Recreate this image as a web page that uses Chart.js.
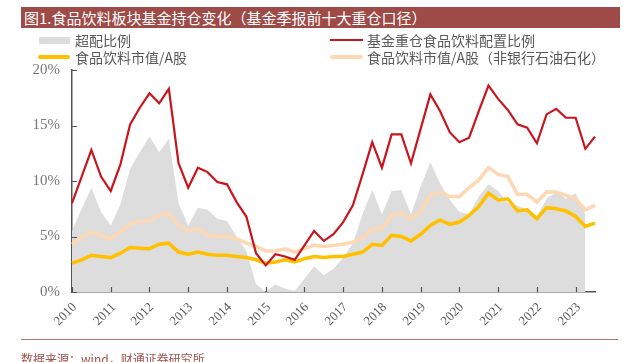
<!DOCTYPE html>
<html>
<head>
<meta charset="utf-8">
<script src="https://cdn.jsdelivr.net/npm/chart.js@4.4.0/dist/chart.umd.min.js"></script>
<style>
  body { margin: 0; background: #fff; }
  #wrap { position: relative; width: 625px; height: 362px; overflow: hidden; font-family: "Noto Sans CJK SC", sans-serif; }
  #title { position: absolute; left: 21px; top: 7px; width: 599px; height: 21px; background: #9e4b47; color: #fff;
           font-size: 15px; line-height: 21px; padding-left: 3px; box-sizing: border-box; white-space: nowrap; }
  .lg { position: absolute; font-size: 14px; color: #595959; line-height: 16px; white-space: nowrap; }
  .sw { position: absolute; }
  canvas { position: absolute; left: 0; top: 0; }
  #rule { position: absolute; left: 21px; top: 339px; width: 597px; height: 1px; background: #b8716b; z-index: 5; }
  #src { position: absolute; left: 21px; top: 352px; font-size: 12px; line-height: 14px; color: #a0524c; white-space: nowrap; }
  .xl { position: absolute; font: 13px 'Liberation Serif', 'DejaVu Serif', serif; color: #595959; line-height: 13px;
        white-space: nowrap; transform-origin: 100% 50%; transform: rotate(-45deg); text-align: right; width: 40px; z-index: 5; }
</style>
</head>
<body>
<div id="wrap">
  <canvas id="chart" width="625" height="362"></canvas>
  <div id="title">图1.食品饮料板块基金持仓变化（基金季报前十大重仓口径）</div>
  <div id="legend"></div>
  <div id="xlabels"></div>
  <div id="rule"></div>
  <div id="src">数据来源：wind，财通证券研究所</div>
</div>
<script>
// 季度（2010 起，55 个点）
const quarters = [
  "2010Q1","2010Q2","2010Q3","2010Q4","2011Q1","2011Q2","2011Q3","2011Q4",
  "2012Q1","2012Q2","2012Q3","2012Q4","2013Q1","2013Q2","2013Q3","2013Q4",
  "2014Q1","2014Q2","2014Q3","2014Q4","2015Q1","2015Q2","2015Q3","2015Q4",
  "2016Q1","2016Q2","2016Q3","2016Q4","2017Q1","2017Q2","2017Q3","2017Q4",
  "2018Q1","2018Q2","2018Q3","2018Q4","2019Q1","2019Q2","2019Q3","2019Q4",
  "2020Q1","2020Q2","2020Q3","2020Q4","2021Q1","2021Q2","2021Q3","2021Q4",
  "2022Q1","2022Q2","2022Q3","2022Q4","2023Q1","2023Q2","2023Q3"
];
const yTicks = [0, 5, 10, 15, 20];

// 基金重仓食品饮料配置比例 (%)
const fundWeight = [
  8.0, 10.4, 12.8, 10.4, 9.1, 11.5, 15.1, 16.6, 17.9, 17.0, 18.3, 11.6, 9.4, 11.2,
  10.8, 9.9, 9.7, 8.1, 6.8, 3.5, 2.4, 3.4, 3.2, 2.9, 4.2, 5.5, 4.6, 5.2,
  6.3, 7.8, 10.6, 13.5, 11.2, 14.2, 14.2, 11.6, 14.7, 17.8, 16.3, 14.4, 13.5, 13.9,
  16.3, 18.6, 17.4, 16.4, 15.1, 14.8, 13.4, 16.0, 16.5, 15.7, 15.7, 12.9, 14.0
];
// 食品饮料市值/A股 (%)
const mktShare = [
  2.6, 2.9, 3.3, 3.2, 3.1, 3.5, 4.0, 3.95, 3.9, 4.3, 4.4, 3.6, 3.4, 3.6,
  3.4, 3.3, 3.3, 3.2, 3.1, 2.9, 2.6, 2.7, 2.9, 2.7, 3.0, 3.2, 3.1, 3.2,
  3.2, 3.4, 3.6, 4.3, 4.2, 5.1, 5.0, 4.6, 5.2, 6.0, 6.5, 6.1, 6.3, 6.9,
  7.7, 8.9, 8.3, 8.4, 7.3, 7.4, 6.6, 7.6, 7.5, 7.3, 6.8, 5.9, 6.2
];
// 食品饮料市值/A股（非银行石油石化）(%)
const mktShareEx = [
  4.3, 4.9, 5.4, 5.1, 4.8, 5.4, 6.1, 6.4, 6.4, 6.9, 7.1, 6.0, 5.5, 5.7,
  5.1, 5.0, 5.0, 4.8, 4.4, 4.1, 3.7, 3.7, 3.9, 3.6, 3.9, 4.2, 4.1, 4.2,
  4.3, 4.5, 4.8, 5.7, 5.7, 6.9, 7.1, 6.6, 7.3, 8.7, 9.0, 8.6, 8.6, 9.4,
  10.1, 11.2, 10.6, 10.4, 8.8, 8.8, 8.1, 9.0, 9.0, 8.7, 8.4, 7.4, 7.8
];
// 超配比例 (%)
const overweight = [
  5.5, 7.5, 9.4, 7.2, 6.0, 7.9, 11.1, 12.6, 14.0, 12.6, 13.8, 8.0, 6.0, 7.6,
  7.4, 6.6, 6.4, 5.0, 3.7, 0.7, 0, 0.7, 0.3, 0.1, 1.2, 2.3, 1.5, 2.1,
  3.1, 4.4, 7.0, 9.2, 7.0, 9.1, 9.2, 7.0, 9.5, 11.7, 9.8, 8.3, 7.2, 7.0,
  8.6, 9.7, 9.1, 8.0, 7.8, 7.4, 6.8, 8.4, 9.0, 8.4, 8.9, 7.0, null
];

const AXIS = "#555";
const serif = "'Liberation Serif', 'DejaVu Serif', serif";

// 刻度线朝内
const innerTicks = {
  id: "innerTicks",
  afterDraw(chart) {
    const { ctx, scales: { x, y } } = chart;
    ctx.save();
    ctx.strokeStyle = AXIS;
    ctx.lineWidth = 1.2;
    ctx.beginPath();
    yTicks.forEach((v) => {
      const py = Math.round(y.getPixelForValue(v)) + 0.5;
      ctx.moveTo(x.left, py);
      ctx.lineTo(x.left + 5, py);
    });
    quarters.forEach((q, i) => {
      if (!q.endsWith("Q1")) return;
      const px = Math.round(x.getPixelForValue(i)) + 0.5;
      ctx.moveTo(px, y.bottom);
      ctx.lineTo(px, y.bottom - 5);
    });
    ctx.stroke();
    ctx.restore();
  },
};

const datasets = [
  { label: "基金重仓食品饮料配置比例", data: fundWeight, borderColor: "#c8161e", borderWidth: 2.2 },
  { label: "食品饮料市值/A股", data: mktShare, borderColor: "#ffc000", borderWidth: 3.5 },
  { label: "食品饮料市值/A股（非银行石油石化）", data: mktShareEx, borderColor: "#fdd8b2", borderWidth: 3.5 },
  { label: "超配比例", data: overweight, borderWidth: 0, backgroundColor: "#dddddd", fill: "origin" },
].map((d) => ({ pointRadius: 0, tension: 0, fill: false, ...d }));

const chart = new Chart(document.getElementById("chart"), {
  type: "line",
  data: { labels: quarters, datasets },
  options: {
    responsive: false,
    animation: false,
    devicePixelRatio: 1,
    layout: { padding: { left: 0, right: 30, top: 70, bottom: 0 } },
    plugins: { legend: { display: false }, tooltip: { enabled: false } },
    scales: {
      x: {
        offset: false,
        grid: { display: false },
        border: { color: AXIS, width: 1.5 },
        ticks: { display: false },
        afterFit: (s) => { s.height = 70; },
      },
      y: {
        min: 0, max: 20,
        grid: { display: false, drawTicks: false },
        border: { color: AXIS, width: 1.5 },
        ticks: {
          stepSize: 5, padding: 12, color: "#777", font: { family: serif, size: 15 },
          callback: (v) => v + "%",
        },
        afterFit: (s) => { s.width = 72; },
      },
    },
  },
  plugins: [innerTicks],
});

// 斜排年份标签（按 x 轴位置放置）
const xs = chart.scales.x;
const xlEl = document.getElementById("xlabels");
quarters.forEach((q, i) => {
  if (!q.endsWith("Q1")) return;
  const d = document.createElement("div");
  d.className = "xl";
  d.textContent = q.slice(0, 4);
  d.style.left = (xs.getPixelForValue(i) + 2 - 40) + "px";
  d.style.top = (chart.scales.y.bottom + 12 - 6.5) + "px";
  xlEl.appendChild(d);
});

// 图例（两列）
const legendItems = [
  { text: "超配比例", left: 75, top: 32, sw: { left: 39, top: 37, width: 31, height: 7, background: "#dddddd" } },
  { text: "食品饮料市值/A股", left: 75, top: 49, sw: { left: 38, top: 55, width: 32, height: 3.5, background: "#ffc000", borderRadius: "2px" } },
  { text: "基金重仓食品饮料配置比例", left: 367, top: 32, sw: { left: 330, top: 39, width: 33, height: 2.2, background: "#c8161e" } },
  { text: "食品饮料市值/A股（非银行石油石化）", left: 367, top: 49, sw: { left: 330, top: 55, width: 33, height: 3.5, background: "#fdd8b2", borderRadius: "2px" } },
];
const legendEl = document.getElementById("legend");
legendItems.forEach((it) => {
  const sw = document.createElement("div");
  sw.className = "sw";
  Object.entries(it.sw).forEach(([k, v]) => { sw.style[k] = typeof v === "number" ? v + "px" : v; });
  legendEl.appendChild(sw);
  const t = document.createElement("div");
  t.className = "lg";
  t.style.left = it.left + "px";
  t.style.top = it.top + "px";
  t.textContent = it.text;
  legendEl.appendChild(t);
});
</script>
</body>
</html>
